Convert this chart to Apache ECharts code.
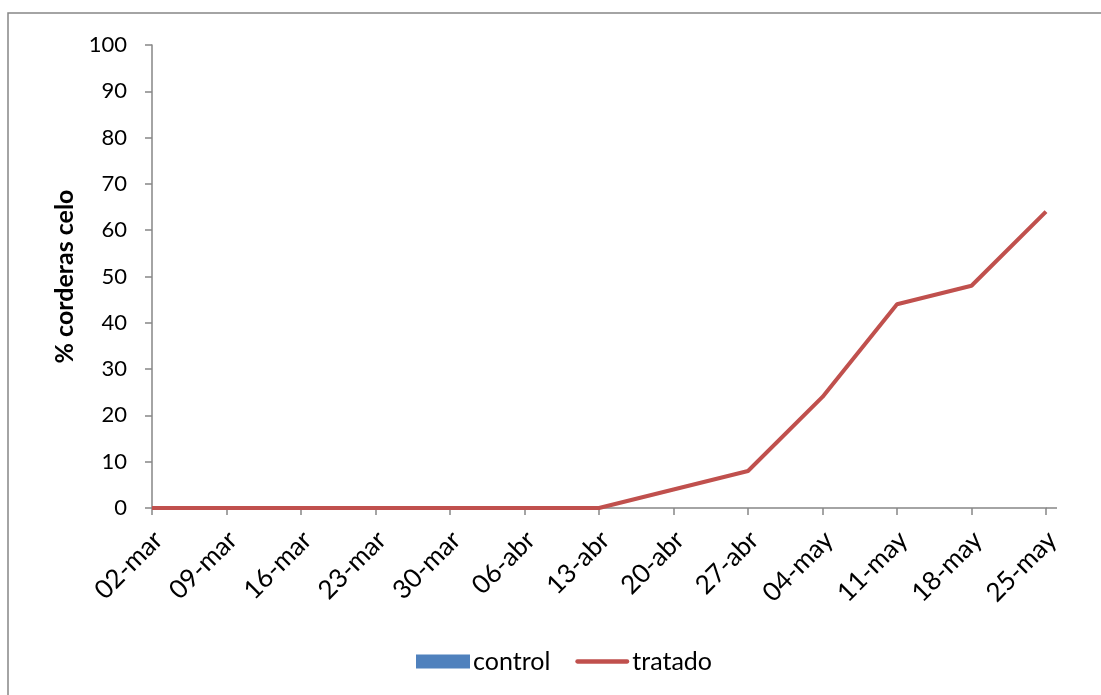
<!DOCTYPE html>
<html>
<head>
<meta charset="utf-8">
<script src="https://cdn.jsdelivr.net/npm/echarts@6/dist/echarts.min.js"></script>
<style>html,body{margin:0;padding:0;background:#fff}#c{width:1101px;height:695px}</style>
</head>
<body>
<div id="c"></div>
<script>
var categories = ['02-mar','09-mar','16-mar','23-mar','30-mar','06-abr','13-abr','20-abr','27-abr','04-may','11-may','18-may','25-may'];
var controlValues = [0,0,0,0,0,0,0,0,0,0,0,0,0];
var tratadoValues = [0,0,0,0,0,0,0,4,8,24,44,48,64];
var yTicks = [0,10,20,30,40,50,60,70,80,90,100];

var font = 'Lato, "Open Sans", sans-serif';
var chart = echarts.init(document.getElementById('c'));
chart.setOption({
  animation: false,
  backgroundColor: '#fff',
  graphic: [
    {type:'rect', shape:{x:8, y:13, width:1200, height:800}, style:{fill:'none', stroke:'#868686', lineWidth:1.5}, z:-1},
    {type:'line', shape:{x1:1046, y1:508, x2:1057, y2:508}, style:{stroke:'#868686', lineWidth:1.5}, z:10}
  ],
  grid: {left:152, right:1101-1046, top:45, bottom:695-508, containLabel:false},
  legend: {
    bottom: 16, left: 411,
    itemGap: 25, itemWidth: 54, itemHeight: 14,
    textStyle: {fontFamily: font, fontSize: 25, color:'#000', padding:[0,0,0,-2]},
    data: [
      {name:'control', icon:'rect'},
      {name:'tratado', icon:'path://M4,0 L96,0 A4,4 0 0 1 96,8 L4,8 A4,4 0 0 1 4,0 Z'}
    ]
  },
  xAxis: {
    type: 'category',
    data: categories,
    boundaryGap: false,
    axisLine: {lineStyle:{color:'#868686', width:1.5}},
    axisTick: {alignWithLabel:true, length:7, lineStyle:{color:'#868686', width:1.5}},
    axisLabel: {rotate:45, margin:34, padding:[0,-9,0,0], fontFamily:font, fontSize:26, color:'#000', interval:0}
  },
  yAxis: {
    type: 'value',
    min: 0, max: 100, interval: 10,
    name: '% corderas celo',
    nameLocation: 'middle',
    nameGap: 74,
    nameTextStyle: {fontFamily:font, fontSize:25, fontWeight:'bold', color:'#000'},
    axisLine: {show:true, lineStyle:{color:'#868686', width:1.5}},
    axisTick: {show:true, length:7, lineStyle:{color:'#868686', width:1.5}},
    splitLine: {show:false},
    axisLabel: {margin:25, fontFamily:font, fontSize:22, color:'#000',
      formatter: function(v){ return yTicks.indexOf(v) >= 0 ? String(v) : ''; }}
  },
  series: [
    {name:'control', type:'bar', data:controlValues, itemStyle:{color:'#4f81bd'}},
    {name:'tratado', type:'line', data:tratadoValues, symbol:'none',
      lineStyle:{color:'#c0504d', width:4}, itemStyle:{color:'#c0504d'}}
  ]
});
</script>
</body>
</html>
